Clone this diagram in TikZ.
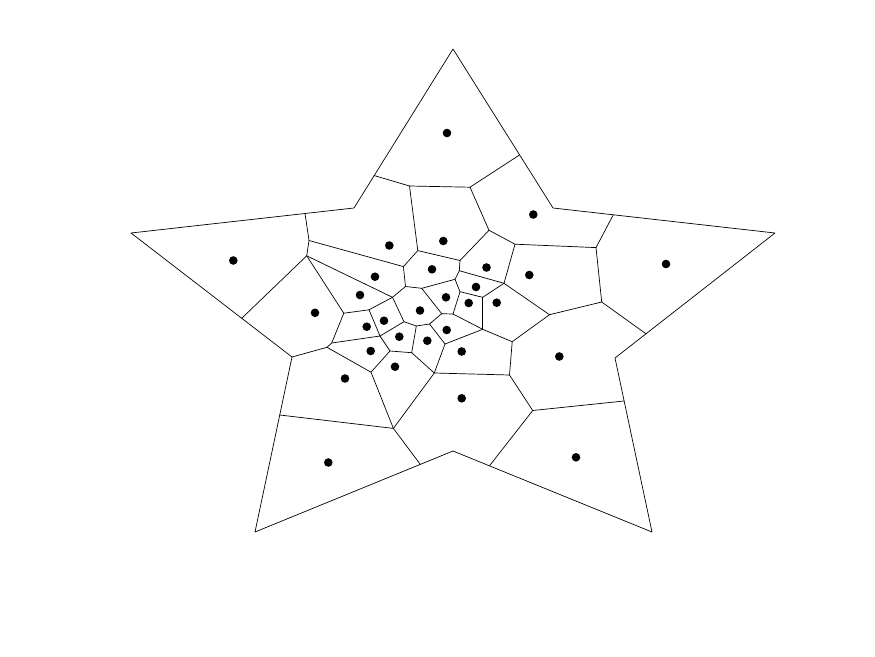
\documentclass[tikz,border=0pt]{standalone}
\usepackage{tikz}

\begin{document}
\begin{tikzpicture}[
  x=1pt, y=-1pt,
  edge/.style={line width=0.7pt, line join=round, line cap=round},
  site/.style={circle, fill=black, inner sep=0pt, minimum size=8.6pt}
]
\useasboundingbox (0,0) rectangle (875,656);

% Star outline
\coordinate (s0) at (453,49);
\coordinate (s1) at (553,208);
\coordinate (s2) at (775,233);
\coordinate (s3) at (615,358);
\coordinate (s4) at (652,532);
\coordinate (s5) at (453,451);
\coordinate (s6) at (255,532);
\coordinate (s7) at (292,357);
\coordinate (s8) at (131,233);
\coordinate (s9) at (354,208);
\draw[edge] (s0) -- (s1) -- (s2) -- (s3) -- (s4) -- (s5) -- (s6)
  -- (s7) -- (s8) -- (s9) -- cycle;

% Cell edges meeting the outline
\coordinate (b1) at (374,175.5);
\coordinate (b2) at (519.5,155);
\coordinate (b3) at (613.3,214.8);
\coordinate (b4) at (646,333.8);
\coordinate (b5) at (624,401);
\coordinate (b6) at (489.5,465.8);
\coordinate (b7) at (420.3,464.4);
\coordinate (b8) at (279.8,415);
\coordinate (b9) at (241.7,318.3);
\coordinate (b10) at (305,213.5);

% Inner cell corners
\coordinate (v1) at (409.5,186);
\coordinate (v2) at (470,187.2);
\coordinate (v3) at (417.8,250.6);
\coordinate (v4) at (489,230.3);
\coordinate (v5) at (515,244.2);
\coordinate (v6) at (596,247.6);
\coordinate (v7) at (601.7,302);
\coordinate (v8) at (549.5,314.7);
\coordinate (v9) at (512.2,341.7);
\coordinate (v10) at (504,283.3);
\coordinate (v11) at (509.5,375);
\coordinate (v12) at (532.7,410.5);
\coordinate (v13) at (434.3,373);
\coordinate (v14) at (393.4,428.4);
\coordinate (v15) at (371,372.2);
\coordinate (v16) at (327,347.3);
\coordinate (v17) at (331.7,343);
\coordinate (v18) at (343.8,313.2);
\coordinate (v19) at (369,309.8);
\coordinate (v20) at (392.5,297.3);
\coordinate (v21) at (306.7,255.8);
\coordinate (v22) at (309,240.5);
\coordinate (v23) at (403.4,266.6);
\coordinate (v24) at (405.5,286.5);
\coordinate (v25) at (421.7,288.3);
\coordinate (v26) at (455,279.3);
\coordinate (v27) at (459.3,270.7);
\coordinate (v28) at (460,260.5);
\coordinate (v29) at (441.7,313.7);
\coordinate (v30) at (404,321.7);
\coordinate (v31) at (416.3,326);
\coordinate (v32) at (429.5,324);
\coordinate (v33) at (445,344);
\coordinate (v34) at (411.7,352.7);
\coordinate (v35) at (390,351);
\coordinate (v36) at (380,336);
\coordinate (v37) at (453,314);
\coordinate (v38) at (460,291.7);
\coordinate (v39) at (482.7,297.3);
\coordinate (v40) at (482.7,329.3);

% Outer ring of cells
\draw[edge] (b1) -- (v1) -- (v2) -- (b2);
\draw[edge] (v1) -- (v3) -- (v28) -- (v4) -- (v2);
\draw[edge] (v4) -- (v5) -- (v6) -- (b3);
\draw[edge] (v6) -- (v7) -- (b4);
\draw[edge] (v7) -- (v8) -- (v9) -- (v11) -- (v12) -- (b5);
\draw[edge] (v12) -- (b6);
\draw[edge] (v8) -- (v10) -- (v5);
\draw[edge] (v10) -- (v27) -- (v28);
\draw[edge] (v27) -- (v26) -- (v25) -- (v24) -- (v23) -- (v3);
\draw[edge] (v23) -- (v22) -- (b10);
\draw[edge] (v22) -- (v21) -- (b9);
\draw[edge] (v21) -- (v20) -- (v24);
\draw[edge] (v21) -- (v18) -- (v17) -- (v16) -- (s7);
\draw[edge] (v16) -- (v15) -- (v14) -- (b8);
\draw[edge] (v14) -- (b7);
\draw[edge] (v14) -- (v13) -- (v11);

% Small cells in the middle
\draw[edge] (v18) -- (v19) -- (v20) -- (v30) -- (v31) -- (v32) -- (v29) -- (v25);
\draw[edge] (v19) -- (v36) -- (v17);
\draw[edge] (v36) -- (v30);
\draw[edge] (v36) -- (v35) -- (v15);
\draw[edge] (v35) -- (v34) -- (v31);
\draw[edge] (v34) -- (v13) -- (v33) -- (v32);
\draw[edge] (v33) -- (v40) -- (v9);
\draw[edge] (v40) -- (v37) -- (v29);
\draw[edge] (v37) -- (v38) -- (v26);
\draw[edge] (v38) -- (v39) -- (v10);
\draw[edge] (v39) -- (v40);

% Sites
\foreach \px/\py [count=\i] in {447/133, 533.3/214.5, 233.3/260.5, 666/264,
    389.3/245.5, 443.3/241, 375/276.7, 432/269.3, 486.5/267.5, 529.3/275,
    360/295, 476/287, 315/312.8, 446/297.3, 468.7/303, 496.7/302.7,
    420/310.5, 366.7/326.7, 384/320.7, 399.3/336.7, 446.7/330, 427.3/340.7,
    370.7/351, 461.7/351.5, 395/366.7, 559.3/356.5, 345/378.5, 461.7/398.3,
    328.3/462.5, 576/457.3}
  \node[site] (p\i) at (\px,\py) {};

\end{tikzpicture}
\end{document}
